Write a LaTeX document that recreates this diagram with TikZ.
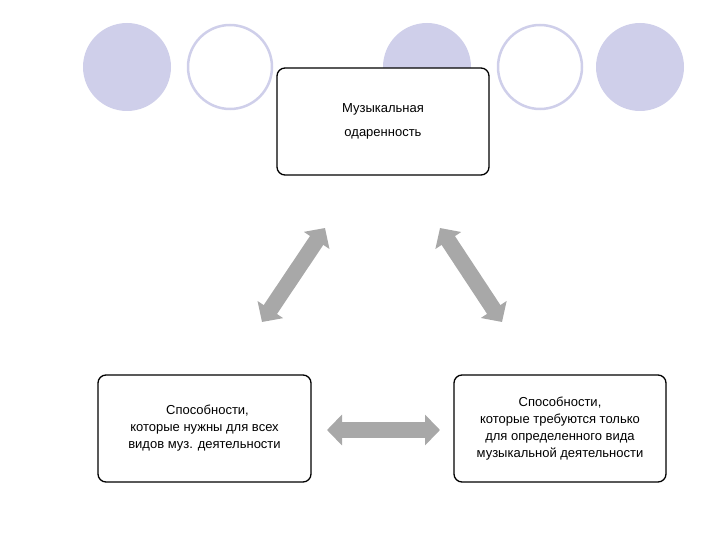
\documentclass[tikz,border=0pt]{standalone}
\usepackage{fontspec}
\setmainfont{Liberation Sans}
\usetikzlibrary{arrows.meta}
\definecolor{lav}{HTML}{CFCFEA}
\definecolor{ag}{HTML}{A8A8A8}
\begin{document}
\begin{tikzpicture}[x=1pt,y=-1pt,
  box/.style={draw=black,line width=1.3pt,rounded corners=8pt,fill=white,align=center,font=\fontsize{13}{17}\selectfont},
  fcirc/.style={circle,fill=lav,minimum size=88pt,inner sep=0pt},
  ocirc/.style={circle,draw=lav,line width=2.5pt,fill=white,minimum size=84pt,inner sep=0pt},
  barrow/.style={draw=ag,line width=16pt,{Triangle[width=30pt,length=15pt]}-{Triangle[width=30pt,length=15pt]}}]
\useasboundingbox (0,0) rectangle (720,540);
\node[fcirc] (c1) at (127,67) {};
\node[ocirc] (c2) at (230,67) {};
\node[fcirc] (c3) at (427,67) {};
\node[ocirc] (c4) at (540,67) {};
\node[fcirc] (c5) at (640,67) {};
\node[box,minimum width=212pt,minimum height=107pt,font=\fontsize{13}{24}\selectfont] (top) at (383,121.5) {Музыкальная\\одаренность};
\node[box,minimum width=213pt,minimum height=107pt] (left) at (204.5,428.5) {\hspace*{6pt}Способности,\\ которые нужны для всех\\видов муз. деятельности};
\node[box,minimum width=212pt,minimum height=107pt] (right) at (560,428.5) {Способности,\\которые требуются только\\для определенного вида\\музыкальной  деятельности};
\coordinate (a1) at (262,322); \coordinate (a2) at (325,228);
\coordinate (b1) at (440,228); \coordinate (b2) at (502,322);
\coordinate (h1) at (327,430); \coordinate (h2) at (440,430);
\draw[barrow] (a1) -- (a2);
\draw[barrow] (b1) -- (b2);
\draw[barrow] (h1) -- (h2);
\end{tikzpicture}
\end{document}
